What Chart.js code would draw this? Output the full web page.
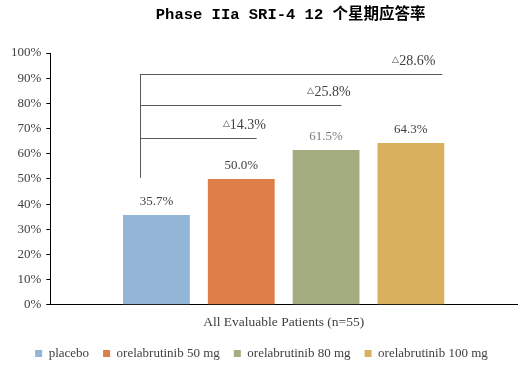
<!DOCTYPE html>
<html>
<head>
<meta charset="utf-8">
<script src="https://cdn.jsdelivr.net/npm/chart.js@4"></script>
<style>
html,body{margin:0;padding:0;background:#fff;}
#wrap{width:531px;height:370px;position:relative;}
</style>
</head>
<body>
<div id="wrap"><canvas id="c" width="531" height="370"></canvas></div>
<script>
const categories = ['All Evaluable Patients (n=55)'];
const seriesNames = ['placebo', 'orelabrutinib 50 mg', 'orelabrutinib 80 mg', 'orelabrutinib 100 mg'];
const seriesValues = [35.7, 50.0, 61.5, 64.3];
const diffLabels = ['14.3%', '25.8%', '28.6%'];
const yTicks = [0, 10, 20, 30, 40, 50, 60, 70, 80, 90, 100];
const titleText = 'Phase IIa SRI-4 12 个星期应答率';

const colors = ['#93B5D6', '#DF7F48', '#A4AD80', '#D9B15E'];
const labelColors = ['#404040', '#404040', '#7a7a7a', '#404040'];
const serif = "'Liberation Serif', 'Times New Roman', serif";

const titlePlugin = {
  id: 'topTitle',
  afterDraw(chart, args, opts) {
    const ctx = chart.ctx;
    const ca = chart.chartArea;
    ctx.save();
    ctx.font = "bold 15.5px 'Liberation Mono', 'Noto Sans CJK SC', monospace";
    ctx.fillStyle = '#000';
    ctx.textAlign = 'center';
    ctx.textBaseline = 'middle';
    ctx.fillText(titleText, (ca.left + ca.right) / 2 + opts.shift, opts.y);
    ctx.restore();
  }
};

const bracketPlugin = {
  id: 'brackets',
  afterDatasetsDraw(chart, args, opts) {
    const ctx = chart.ctx;
    const y = chart.scales.y;
    const bars = chart.data.datasets.map((d, i) => chart.getDatasetMeta(i).data[0]);
    ctx.save();
    // value labels
    ctx.font = '13px ' + serif;
    ctx.textAlign = 'center';
    ctx.textBaseline = 'bottom';
    bars.forEach((b, i) => {
      ctx.fillStyle = labelColors[i];
      ctx.fillText(seriesValues[i].toFixed(1) + '%', b.x, b.y - 7);
    });
    // brackets
    const b0 = bars[0];
    const vx = Math.round(b0.x - b0.width / 4) + 0.5;
    ctx.strokeStyle = '#595959';
    ctx.lineWidth = 1;
    ctx.beginPath();
    ctx.moveTo(vx, y.getPixelForValue(opts.bottom));
    ctx.lineTo(vx, y.getPixelForValue(opts.levels[opts.levels.length - 1]));
    ctx.stroke();
    opts.levels.forEach((lv, k) => {
      const tb = bars[k + 1];
      const py = Math.round(y.getPixelForValue(lv)) + 0.5;
      const ex = tb.x + tb.width * opts.ends[k];
      ctx.beginPath();
      ctx.moveTo(vx, py);
      ctx.lineTo(ex, py);
      ctx.stroke();
      // label
      ctx.font = '14px ' + serif;
      const tw = ctx.measureText(diffLabels[k]).width;
      ctx.font = '9px ' + serif;
      const dw = ctx.measureText('△').width;
      const total = tw + dw;
      const sx = tb.x + 3 - total / 2;
      const ly = py - 6;
      ctx.textAlign = 'left';
      ctx.textBaseline = 'bottom';
      ctx.fillStyle = '#404040';
      ctx.fillText('△', sx, ly - 4);
      ctx.font = '14px ' + serif;
      ctx.fillText(diffLabels[k], sx + dw, ly);
    });
    ctx.restore();
  }
};

new Chart(document.getElementById('c'), {
  type: 'bar',
  data: {
    labels: categories,
    datasets: seriesNames.map((n, i) => ({
      label: n,
      data: [seriesValues[i]],
      backgroundColor: colors[i],
      borderWidth: 0,
      categoryPercentage: 0.727,
      barPercentage: 0.788
    }))
  },
  options: {
    responsive: false,
    animation: false,
    layout: { padding: { left: 6, right: 14, top: 53, bottom: 0 } },
    plugins: {
      title: { display: false },
      topTitle: { y: 15, shift: 7 },
      legend: {
        position: 'bottom',
        labels: {
          boxWidth: 7, boxHeight: 7,
          color: '#404040',
          font: { family: serif, size: 13 },
          padding: 14
        }
      },
      tooltip: { enabled: false },
      brackets: { levels: [66.3, 79.4, 91.7], ends: [0.23, 0.23, 0.47], bottom: 50.4 }
    },
    scales: {
      x: {
        grid: { display: false },
        border: { display: true, color: '#000', width: 1 },
        ticks: { color: '#404040', font: { family: serif, size: 13.5 }, padding: 2 }
      },
      y: {
        min: 0, max: 100,
        afterBuildTicks: (ax) => { ax.ticks = yTicks.map(v => ({ value: v })); },
        grid: { drawOnChartArea: false, drawTicks: true, tickLength: 4, color: '#000' },
        border: { display: true, color: '#000', width: 1 },
        ticks: { color: '#404040', font: { family: serif, size: 13 }, padding: 5, callback: v => v + '%' }
      }
    }
  },
  plugins: [bracketPlugin, titlePlugin]
});
</script>
</body>
</html>
